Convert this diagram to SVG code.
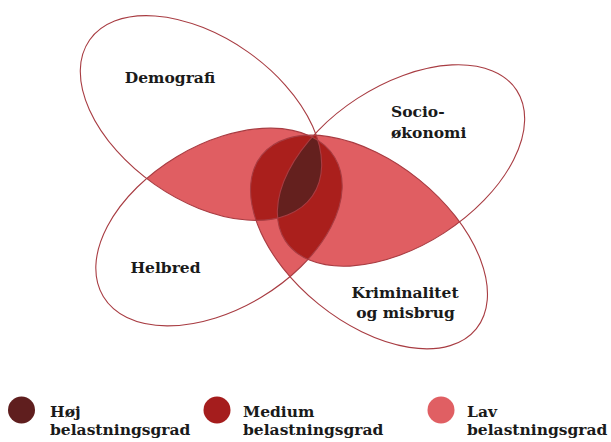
<svg xmlns="http://www.w3.org/2000/svg" width="611" height="442" viewBox="0 0 611 442">
<style>
.o{fill:none;stroke:#a83c42;stroke-width:1.1}
.l{fill:#e05e62}
.m{fill:#aa1f1c}
.d{fill:#64201e}
text{font-family:"DejaVu Serif","Liberation Serif",serif;font-weight:bold;font-size:15.5px;fill:#1a1a1a}
</style>
<defs>
<ellipse id="eD" cx="0" cy="0" rx="136" ry="81" transform="translate(201 118) rotate(35)"/>
<ellipse id="eS" cx="0" cy="0" rx="138" ry="80" transform="translate(401 165.5) rotate(-33)"/>
<ellipse id="eH" cx="0" cy="0" rx="135" ry="82" transform="translate(219 227) rotate(-31)"/>
<ellipse id="eK" cx="0" cy="0" rx="138" ry="80" transform="translate(369 242) rotate(39)"/>
<clipPath id="cD"><use href="#eD"/></clipPath>
<clipPath id="cS"><use href="#eS"/></clipPath>
<clipPath id="cH"><use href="#eH"/></clipPath>
<clipPath id="cK"><use href="#eK"/></clipPath>
</defs>
<g id="overlaps">
<use href="#eD" class="l" clip-path="url(#cH)"/>
<use href="#eD" class="l" clip-path="url(#cS)"/>
<use href="#eD" class="l" clip-path="url(#cK)"/>
<use href="#eS" class="l" clip-path="url(#cH)"/>
<use href="#eS" class="l" clip-path="url(#cK)"/>
<use href="#eH" class="l" clip-path="url(#cK)"/>
<g clip-path="url(#cS)"><use href="#eD" class="m" clip-path="url(#cH)"/></g>
<g clip-path="url(#cK)"><use href="#eD" class="m" clip-path="url(#cH)"/></g>
<g clip-path="url(#cK)"><use href="#eD" class="m" clip-path="url(#cS)"/></g>
<g clip-path="url(#cK)"><use href="#eS" class="m" clip-path="url(#cH)"/></g>
<g clip-path="url(#cS)"><g clip-path="url(#cK)"><use href="#eD" class="d" clip-path="url(#cH)"/></g></g>
</g>
<g id="demografi"><use href="#eD" class="o"/><text x="170" y="83" text-anchor="middle">Demografi</text></g>
<g id="socio"><use href="#eS" class="o"/><text x="391" y="117">Socio-</text><text x="391" y="138">økonomi</text></g>
<g id="helbred"><use href="#eH" class="o"/><text x="165.5" y="273" text-anchor="middle">Helbred</text></g>
<g id="kriminalitet"><use href="#eK" class="o"/><text x="405" y="298" text-anchor="middle">Kriminalitet</text><text x="405.5" y="318" text-anchor="middle">og misbrug</text></g>
<g id="legend">
<circle cx="21.5" cy="410" r="13.5" fill="#5f1e1e"/>
<text x="50" y="417">Høj</text><text x="50" y="435">belastningsgrad</text>
<circle cx="217" cy="410" r="13.5" fill="#a51d1d"/>
<text x="243" y="417">Medium</text><text x="243" y="435">belastningsgrad</text>
<circle cx="441" cy="410" r="13.5" fill="#e05f63"/>
<text x="467" y="417">Lav</text><text x="467" y="435">belastningsgrad</text>
</g>
</svg>
